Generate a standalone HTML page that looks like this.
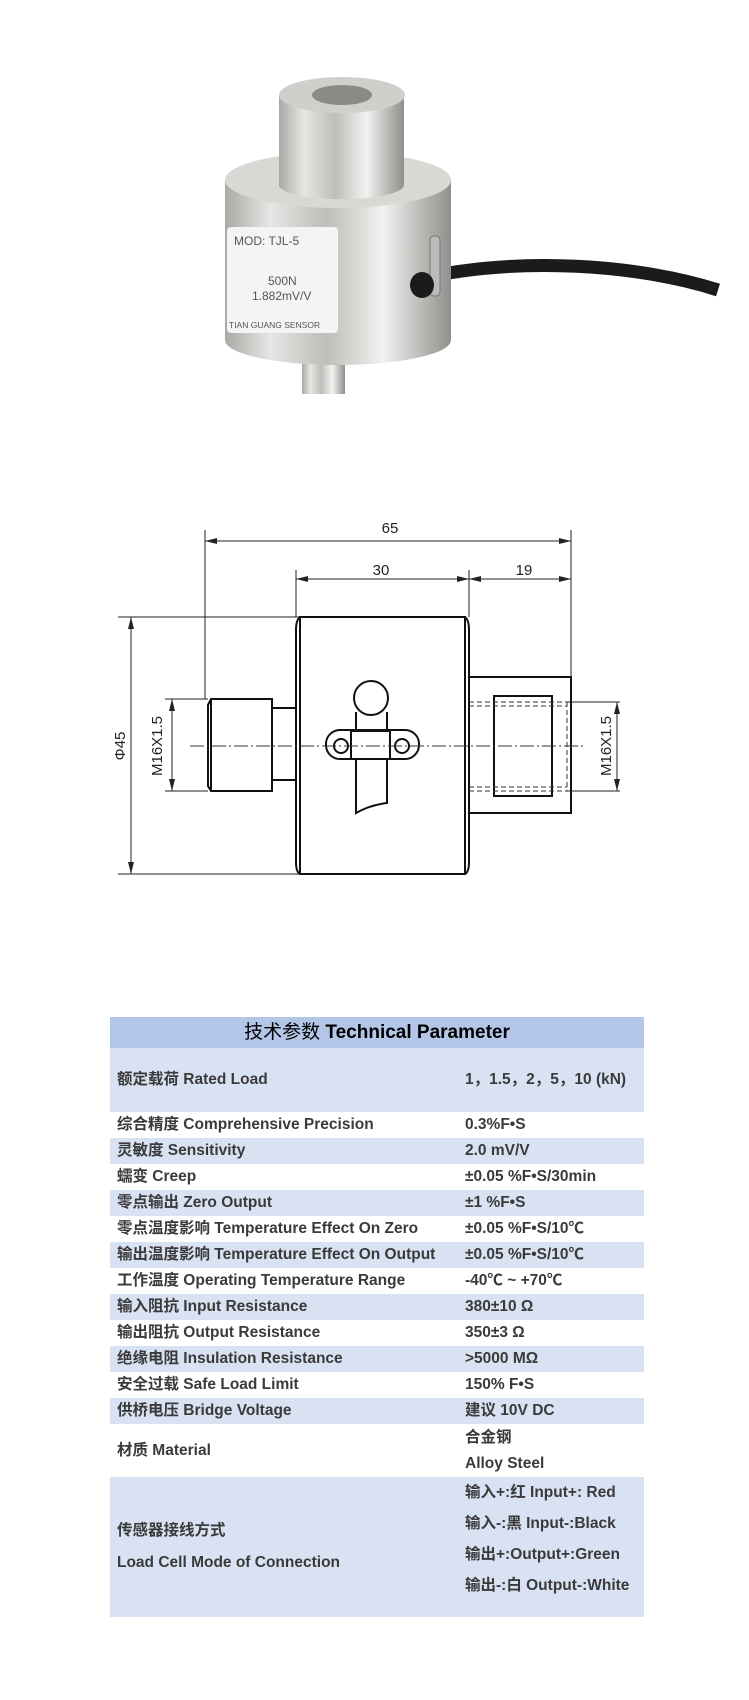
<!DOCTYPE html>
<html><head><meta charset="utf-8"><style>
body{margin:0;background:#fff;width:749px;height:1700px;position:relative;overflow:hidden;font-family:"Liberation Sans","Noto Sans CJK SC",sans-serif}
svg{position:absolute;left:0;top:0}
table{position:absolute;left:110px;top:1017px;width:534px;border-collapse:collapse;color:#3a3a3a;font-weight:bold;font-size:15.5px;table-layout:fixed}
td{padding:0 0 0 7px;height:26px;line-height:20px;white-space:nowrap;overflow:visible;vertical-align:middle}
td.v{padding-left:0}
tr.b td{background:#d9e2f3}
tr.h td{background:#b4c6e7;height:31px;text-align:center;color:#000;font-size:19px;padding:0;font-weight:normal}
</style></head><body>
<svg width="749" height="1000" viewBox="0 0 749 1000">
<defs>
<linearGradient id="m" x1="0" x2="1"><stop offset="0" stop-color="#a9a9a6"/><stop offset=".2" stop-color="#e6e6e4"/><stop offset=".45" stop-color="#bdbdba"/><stop offset=".7" stop-color="#f2f2f0"/><stop offset="1" stop-color="#8f8f8c"/></linearGradient>
</defs>
<path d="M413,280 C520,255 640,265 718,290" stroke="#1b1b1b" stroke-width="13" fill="none"/>
<rect x="302" y="330" width="43" height="64" fill="url(#m)"/>
<path d="M225,180 L451,180 L451,340 A113,25 0 0 1 225,340 Z" fill="url(#m)"/>
<ellipse cx="338" cy="180" rx="113" ry="28" fill="#d8d8d5"/>
<path d="M279,95 L404,95 L404,185 A62,14 0 0 1 279,185 Z" fill="url(#m)"/>
<ellipse cx="342" cy="95" rx="63" ry="18" fill="#cfcfcc"/>
<ellipse cx="342" cy="95" rx="30" ry="10" fill="#8a8a86"/>
<rect x="227" y="227" width="111" height="106" rx="4" fill="#f4f4f4"/>
<text x="234" y="245" font-size="12" fill="#555">MOD: TJL-5</text>
<text x="268" y="285" font-size="12" fill="#555">500N</text>
<text x="252" y="300" font-size="12" fill="#555">1.882mV/V</text>
<text x="229" y="328" font-size="8.5" fill="#555">TIAN GUANG SENSOR</text>
<rect x="430" y="236" width="10" height="60" rx="4" fill="#bbb" stroke="#777"/>
<ellipse cx="422" cy="285" rx="12" ry="13" fill="#1b1b1b"/>
<g stroke="#222" fill="none" stroke-width="1">
<line x1="205" y1="530" x2="205" y2="699"/><line x1="571" y1="530" x2="571" y2="677"/>
<line x1="296" y1="570" x2="296" y2="617"/><line x1="469" y1="570" x2="469" y2="617"/>
<line x1="205" y1="541" x2="571" y2="541"/>
<line x1="296" y1="579" x2="571" y2="579"/>
<line x1="118" y1="617" x2="300" y2="617"/><line x1="118" y1="874" x2="300" y2="874"/>
<line x1="131" y1="617" x2="131" y2="874"/>
<line x1="165" y1="699" x2="208" y2="699"/><line x1="165" y1="791" x2="208" y2="791"/>
<line x1="172" y1="699" x2="172" y2="791"/>
<line x1="567" y1="702" x2="620" y2="702"/><line x1="567" y1="791" x2="620" y2="791"/>
<line x1="617" y1="702" x2="617" y2="791"/>
</g>
<g fill="#222">
<path d="M205,541 l12,-3 v6z"/><path d="M571,541 l-12,-3 v6z"/>
<path d="M296,579 l12,-3 v6z"/><path d="M469,579 l-12,-3 v6z"/><path d="M469,579 l12,-3 v6z"/><path d="M571,579 l-12,-3 v6z"/>
<path d="M131,617 l-3,12 h6z"/><path d="M131,874 l-3,-12 h6z"/>
<path d="M172,699 l-3,12 h6z"/><path d="M172,791 l-3,-12 h6z"/>
<path d="M617,702 l-3,12 h6z"/><path d="M617,791 l-3,-12 h6z"/>
</g>
<g stroke="#111" fill="none" stroke-width="2">
<rect x="300" y="617" width="165" height="257"/>
<path d="M300,617 Q296,620 296,630 L296,862 Q296,872 300,874"/>
<path d="M465,617 Q469,620 469,630 L469,862 Q469,872 465,874"/>
<path d="M272,699 L211,699 L208,705 L208,786 L211,791 L272,791 Z"/>
<line x1="211" y1="699" x2="211" y2="791"/>
<path d="M272,708 L296,708 M272,780 L296,780"/>
<rect x="469" y="677" width="102" height="136"/>
<rect x="494" y="696" width="58" height="100"/>
<circle cx="371" cy="698" r="17"/>
<path d="M356,712 L356,813 Q370,805 387,803 L387,712"/>
<rect x="326" y="730" width="93" height="29" rx="14" fill="#fff"/>
<rect x="351" y="731" width="39" height="28" fill="#fff"/>
<circle cx="341" cy="746" r="7"/><circle cx="402" cy="746" r="7"/>
</g>
<g stroke="#333" stroke-width="1" stroke-dasharray="5,3" fill="none">
<path d="M469,702 H567 M469,706 H567 M469,787 H567 M469,791 H567 M567,702 V791"/>
</g>
<line x1="190" y1="746" x2="585" y2="746" stroke="#333" stroke-dasharray="14,3,2,3"/>
<g font-size="15" fill="#222" text-anchor="middle">
<text x="390" y="533">65</text><text x="381" y="575">30</text><text x="524" y="575">19</text>
<text transform="translate(125,746) rotate(-90)">Φ45</text>
<text transform="translate(162,746) rotate(-90)">M16X1.5</text>
<text transform="translate(611,746) rotate(-90)">M16X1.5</text>
</g>
</svg>
<table>
<colgroup><col style="width:355px"><col style="width:179px"></colgroup>
<tr class="h"><td colspan="2">技术参数 <b>Technical Parameter</b></td></tr>
<tr class="b"><td style="height:64px">额定载荷 Rated Load</td><td class="v">1，1.5，2，5，10 (kN)</td></tr>
<tr><td>综合精度 Comprehensive Precision</td><td class="v">0.3%F•S</td></tr>
<tr class="b"><td>灵敏度 Sensitivity</td><td class="v">2.0 mV/V</td></tr>
<tr><td>蠕变 Creep</td><td class="v">±0.05 %F•S/30min</td></tr>
<tr class="b"><td>零点输出 Zero Output</td><td class="v">±1 %F•S</td></tr>
<tr><td>零点温度影响 Temperature Effect On Zero</td><td class="v">±0.05 %F•S/10℃</td></tr>
<tr class="b"><td>输出温度影响 Temperature Effect On Output</td><td class="v">±0.05 %F•S/10℃</td></tr>
<tr><td>工作温度 Operating Temperature Range</td><td class="v">-40℃ ~ +70℃</td></tr>
<tr class="b"><td>输入阻抗 Input Resistance</td><td class="v">380±10 Ω</td></tr>
<tr><td>输出阻抗 Output Resistance</td><td class="v">350±3 Ω</td></tr>
<tr class="b"><td>绝缘电阻 Insulation Resistance</td><td class="v">&gt;5000 MΩ</td></tr>
<tr><td>安全过载 Safe Load Limit</td><td class="v">150% F•S</td></tr>
<tr class="b"><td>供桥电压 Bridge Voltage</td><td class="v">建议 10V DC</td></tr>
<tr><td style="height:53px">材质 Material</td><td class="v" style="line-height:26px">合金钢<br>Alloy Steel</td></tr>
<tr class="b"><td style="height:140px;line-height:32px">传感器接线方式<br>Load Cell Mode of Connection</td><td class="v" style="line-height:31px;vertical-align:top">输入+:红 Input+: Red<br>输入-:黑 Input-:Black<br>输出+:Output+:Green<br>输出-:白 Output-:White</td></tr>
</table>
</body></html>
